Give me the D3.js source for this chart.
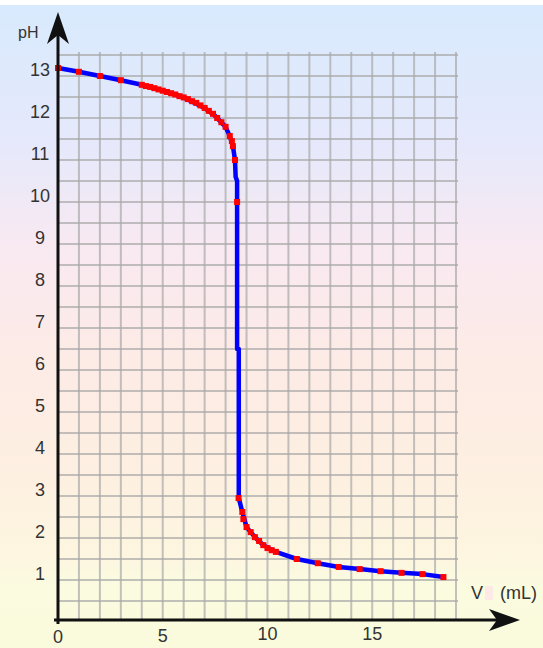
<!DOCTYPE html>
<html>
<head>
<meta charset="utf-8">
<script src="https://cdnjs.cloudflare.com/ajax/libs/d3/7.8.5/d3.min.js"></script>
<style>
    body { margin: 0; background: #fff; }
    svg { display: block; font-family: "Liberation Sans", Arial, sans-serif; }
</style>
</head>
<body>
<svg id="chart" width="543" height="648"></svg>
<script>
// measured points (red)
const markVol = [0, 1, 2, 3, 4.0, 4.2, 4.4, 4.6, 4.8, 5.0, 5.2, 5.4, 5.6, 5.8, 6.0, 6.2, 6.4, 6.6, 6.8, 7.0,
    7.2, 7.4, 7.6, 7.8, 8.0, 8.2, 8.3, 8.35, 8.45, 8.55, 8.62, 8.8, 8.85, 9.0, 9.2, 9.4, 9.6, 9.8, 10.0,
    10.2, 10.4, 11.4, 12.4, 13.4, 14.4, 15.4, 16.4, 17.4, 18.4];
const markPH = [13.19, 13.10, 13.0, 12.9, 12.79, 12.76, 12.74, 12.71, 12.68, 12.65, 12.62, 12.59, 12.56, 12.52,
    12.49, 12.45, 12.40, 12.36, 12.30, 12.24, 12.17, 12.10, 12.0, 11.9, 11.79, 11.57, 11.45, 11.33, 11.0,
    10.0, 2.95, 2.62, 2.45, 2.26, 2.14, 2.02, 1.93, 1.83, 1.76, 1.71, 1.67, 1.50, 1.40, 1.31, 1.26, 1.21,
    1.17, 1.14, 1.07];

// titration curve (blue)
const lineVol = [0, 1, 2, 3, 4, 5, 6, 7, 7.5, 8.0, 8.2, 8.35, 8.45, 8.48, 8.55, 8.55, 8.63, 8.63, 8.8, 9.0,
    9.4, 9.8, 10.4, 11.4, 12.4, 13.4, 14.4, 15.4, 16.4, 17.4, 18.4];
const linePH = [13.19, 13.10, 13.0, 12.9, 12.79, 12.65, 12.49, 12.24, 12.05, 11.79, 11.57, 11.33, 11.0, 10.6,
    10.5, 6.5, 6.5, 2.95, 2.62, 2.26, 2.02, 1.83, 1.67, 1.50, 1.40, 1.31, 1.26, 1.21, 1.17, 1.14, 1.07];

const xTicks = [0, 5, 10, 15];
const yTicks = [1, 2, 3, 4, 5, 6, 7, 8, 9, 10, 11, 12, 13];

const svg = d3.select("#chart");

// background gradient
const grad = svg.append("defs").append("linearGradient")
    .attr("id", "bg").attr("x1", 0).attr("y1", 0).attr("x2", 0).attr("y2", 1);
[["0%", "#d8eafd"], ["22%", "#e6e9fb"], ["38%", "#f9e9f1"], ["55%", "#fdebe6"], ["72%", "#fdefe1"],
    ["86%", "#fdf6e0"], ["90%", "#fbfbe0"], ["100%", "#fafbdc"]].forEach(function(s) {
    grad.append("stop").attr("offset", s[0]).attr("stop-color", s[1]);
});
svg.append("rect").attr("x", 0).attr("y", 5).attr("width", 543).attr("height", 643).attr("fill", "url(#bg)");

const x = d3.scaleLinear().domain([0, 19]).range([58, 456]);
const y = d3.scaleLinear().domain([0, 13.5]).range([622, 55]);

// grid
const grid = svg.append("g").attr("stroke", "#a8a8a8").attr("stroke-opacity", 0.7).attr("stroke-width", 2);
grid.selectAll("line.h")
    .data(d3.range(0.5, 13.51, 0.5))
    .enter().append("line")
    .attr("x1", x(0)).attr("x2", x(19) + 2)
    .attr("y1", d => y(d)).attr("y2", d => y(d));
grid.selectAll("line.v")
    .data(d3.range(1, 20))
    .enter().append("line")
    .attr("x1", d => x(d)).attr("x2", d => x(d))
    .attr("y1", y(13.5) - 3).attr("y2", 620);

// curve
const line = d3.line().x(d => x(d[0])).y(d => y(d[1]));
svg.append("path")
    .datum(lineVol.map((v, i) => [v, linePH[i]]))
    .attr("d", line)
    .attr("fill", "none")
    .attr("stroke", "#0000ff")
    .attr("stroke-width", 4.5)
    .attr("stroke-linejoin", "round");

svg.selectAll("rect.pt")
    .data(markVol.map((v, i) => [v, markPH[i]]))
    .enter().append("rect")
    .attr("class", "pt")
    .attr("x", d => x(d[0]) - 3)
    .attr("y", d => y(d[1]) - 3)
    .attr("width", 6).attr("height", 6)
    .attr("fill", "#ff0000");

// axes with arrows
svg.append("line").attr("x1", 58).attr("x2", 58).attr("y1", 624).attr("y2", 30)
    .attr("stroke", "#111").attr("stroke-width", 3);
svg.append("line").attr("x1", 54).attr("x2", 500).attr("y1", 620).attr("y2", 620)
    .attr("stroke", "#111").attr("stroke-width", 3);
svg.append("path").attr("d", "M58,12 L47,44 L58,35 L69,44 Z").attr("fill", "#111");
svg.append("path").attr("d", "M520,620 L489,609 L497,620 L489,631 Z").attr("fill", "#111");

// tick labels
svg.selectAll("text.yl")
    .data(yTicks)
    .enter().append("text")
    .attr("x", 40).attr("y", d => y(d))
    .attr("text-anchor", "middle")
    .attr("font-size", 18)
    .attr("fill", "#333")
    .text(d => d);

const xDy = [2, 1, -1, -1];
svg.selectAll("text.xl")
    .data(xTicks)
    .enter().append("text")
    .attr("x", d => x(d)).attr("y", (d, i) => 641 + xDy[i])
    .attr("text-anchor", "middle")
    .attr("font-size", 18)
    .attr("fill", "#333")
    .text(d => d);

svg.append("text").attr("x", 18).attr("y", 38).attr("font-size", 16).attr("fill", "#333").text("pH");
svg.append("text").attr("x", 471).attr("y", 599).attr("font-size", 18).attr("fill", "#333").text("V");
svg.append("rect").attr("x", 485).attr("y", 586).attr("width", 8).attr("height", 14).attr("fill", "#fde9e6");
svg.append("text").attr("x", 500).attr("y", 599).attr("font-size", 18).attr("fill", "#333").text("(mL)");
</script>
</body>
</html>
